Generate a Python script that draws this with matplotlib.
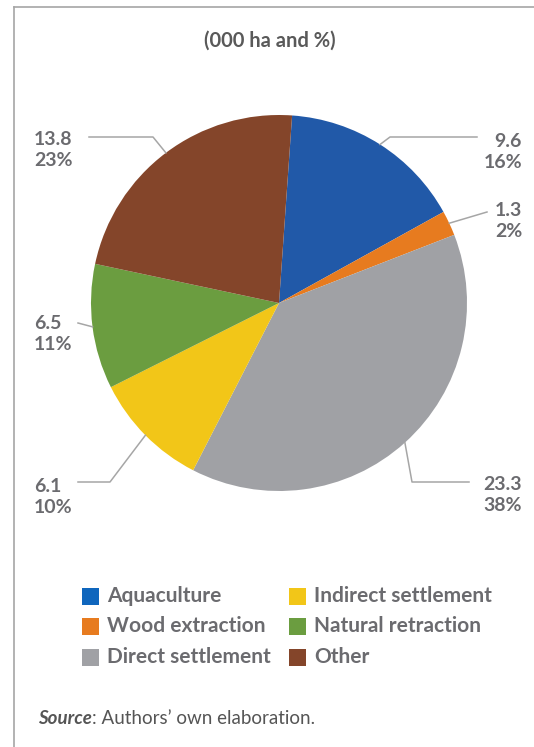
import numpy as np
import matplotlib.pyplot as plt
from matplotlib.lines import Line2D
from matplotlib.patches import Rectangle

plt.rcParams["font.family"] = ["Lato", "DejaVu Sans"]

# ------------------------------------------------------------
# Data (000 ha)
# ------------------------------------------------------------
categories = ["Aquaculture", "Wood extraction", "Direct settlement",
              "Indirect settlement", "Natural retraction", "Other"]
values = [9.6, 1.3, 23.3, 6.1, 6.5, 13.8]
percents = ["16%", "2%", "38%", "10%", "11%", "23%"]
colors = ["#2159a8", "#e77b1f", "#a0a1a5", "#f2c618", "#6b9d40", "#84452a"]
legend_colors = ["#0f66bd", "#e77b1f", "#a0a1a5", "#f2c618", "#6b9d40", "#84452a"]

W, H = 534, 747
CX, CY, R = 279, 303, 188   # pie centre / radius in pixels

TXT = "#6b6b6f"
LINE = "#a6a6a6"

# label layout in pixels: (text x, text y centre, ha, elbow, line end)
label_layout = [
    (522, 152, "right", (390, 137), (477, 137)),
    (522, 221, "right", None, (487, 212)),
    (522, 495, "right", (412, 482), (469, 482)),
    (34, 497, "left", (110, 482), (78, 482)),
    (34, 334, "left", None, (78, 323)),
    (34, 150, "left", (153, 137), (89, 137)),
]


def px_to_data(p):
    return (p[0] - CX) / R, (CY - p[1]) / R


fig = plt.figure(figsize=(W / 100, H / 100), dpi=100)

# thin frame on the left and top
fig.add_artist(Line2D([14 / W, 14 / W], [0, 1 - 7 / H], color=LINE, lw=1.2))
fig.add_artist(Line2D([14 / W, 1], [1 - 7 / H, 1 - 7 / H], color=LINE, lw=1.2))

ax = fig.add_axes([(CX - R) / W, (H - CY - R) / H, 2 * R / W, 2 * R / H])

wedges, _ = ax.pie(values, colors=colors, startangle=86, counterclock=False,
                   radius=1, center=(0, 0), frame=False)
ax.set_xlim(-1, 1)
ax.set_ylim(-1, 1)
ax.axis("off")

# leader lines from each slice's mid-angle out to its value label
for w, v, pct, lay in zip(wedges, values, percents, label_layout):
    tx, ty, ha, elbow, end = lay
    mid = np.deg2rad((w.theta1 + w.theta2) / 2)
    pts = [(np.cos(mid), np.sin(mid))]
    if elbow is not None:
        pts.append(px_to_data(elbow))
    pts.append(px_to_data(end))
    xs, ys = zip(*pts)
    ax.plot(xs, ys, color=LINE, lw=1.1, clip_on=False)
    fig.text(tx / W, 1 - ty / H, f"{v:.1f}\n{pct}", ha=ha, va="center",
             multialignment=ha, fontsize=14, fontweight="bold", color=TXT,
             linespacing=1.3)

fig.text(270 / W, 1 - 41 / H, "(000 ha and %)", ha="center", va="center",
         fontsize=14.5, fontweight="bold", color="#595959")

# legend: two columns, three rows
col_x = [82, 289]
row_y = [596, 626, 657]
sq = 17
for i, (cat, c) in enumerate(zip(categories, legend_colors)):
    x0 = col_x[i // 3]
    yc = row_y[i % 3]
    fig.add_artist(Rectangle((x0 / W, 1 - (yc + sq / 2) / H), sq / W, sq / H,
                             facecolor=c, edgecolor="none",
                             transform=fig.transFigure))
    fig.text((x0 + sq + 8) / W, 1 - yc / H, cat, ha="left", va="center",
             fontsize=15, fontweight="bold", color=TXT)

# source line: italic label followed by plain text
src = fig.text(38 / W, 1 - 718 / H, "Source", ha="left", va="center",
               fontsize=13.5, style="italic", fontweight="bold", color="#555555")
fig.canvas.draw()
bb = src.get_window_extent()
fig.text(bb.x1 / W, 1 - 718 / H, ": Authors\u2019 own elaboration.", ha="left",
         va="center", fontsize=13.5, color="#555555")

fig.savefig("out.png", dpi=100)
